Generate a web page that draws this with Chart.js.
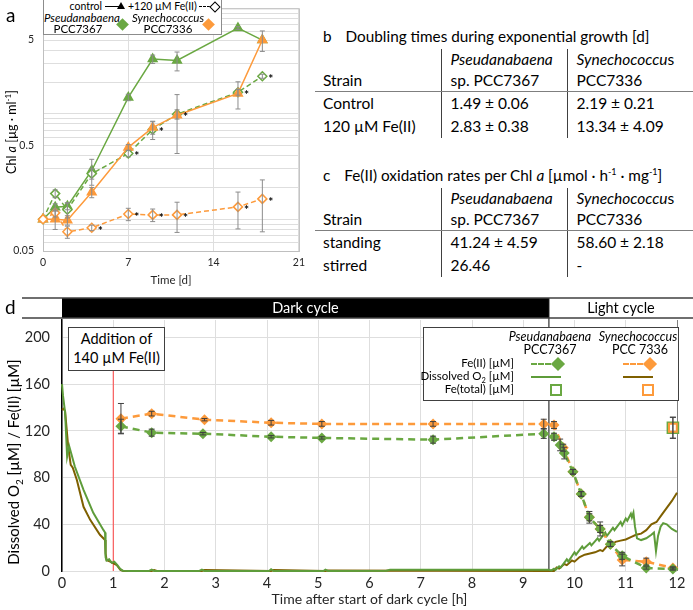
<!DOCTYPE html>
<html>
<head>
<meta charset="utf-8">
<script src="https://cdn.jsdelivr.net/npm/chart.js@4.4.0/dist/chart.umd.min.js"></script>
<style>
  body { margin: 0; width: 693px; height: 610px; position: relative; overflow: hidden; background: #fff; font-family: Lato, 'Open Sans', sans-serif; color: #000; }
  .abs { position: absolute; }
  .panel-label { font-size: 19px; }
  .rot { transform: translate(-50%, -50%) rotate(-90deg); white-space: nowrap; }
  .tbl-title { position: absolute; left: 323px; font-size: 15.3px; white-space: nowrap; }
  .tbl-title span { margin-left: 14px; }
  table.tbl { position: absolute; left: 315px; width: 378px; border-collapse: collapse; table-layout: fixed; font-size: 15.5px; }
  table.tbl td { padding: 0 0 0 8px; height: 23px; line-height: 21px; white-space: nowrap; }
  table.tbl td + td { border-left: 1px solid #404040; padding-left: 9px; }
  table.tbl tr.head td { height: 41px; vertical-align: bottom; border-bottom: 1.5px solid #7f7f7f; }
  .legend { position: absolute; background: #fff; border: 1px solid #404040; }
  .legend div { position: absolute; white-space: nowrap; }
  .dash { height: 0; border-top: 2px dashed; }
  .solid { height: 0; border-top: 2px solid; }
  .diamond { width: 9px; height: 9px; transform: rotate(45deg); }
  .box { width: 8px; height: 8px; border: 2px solid; background: #fff; }
  .tri { width: 0; height: 0; border-left: 4px solid transparent; border-right: 4px solid transparent; border-bottom: 7px solid #000; }
</style>
</head>
<body>

<canvas id="chartA" class="abs" width="310" height="297" style="left:0;top:-7px"></canvas>
<canvas id="chartD" class="abs" width="693" height="320" style="left:0;top:290px"></canvas>

<div class="abs panel-label" style="left:6px;top:3px">a</div>
<div class="abs rot" style="left:11px;top:132px;font-size:12.5px">Chl <i>a</i> [µg · ml<sup style="font-size:8px">-1</sup>]</div>

<!-- panel a legend -->
<div class="legend" style="left:43px;top:-1px;width:177px;height:34px;border-color:#8c8c8c">
  <div style="right:119px;top:0px;font-size:10.5px;line-height:13px">control</div>
  <div class="solid" style="left:61px;top:6px;width:14px;border-top-width:1.5px;border-color:#000"></div>
  <div class="tri" style="left:73px;top:2px"></div>
  <div style="left:84px;top:0px;font-size:10.5px;line-height:13px">+120 µM Fe(II)</div>
  <div class="dash" style="left:155px;top:6px;width:11px;border-color:#000;border-top-width:1.5px"></div>
  <div class="diamond" style="left:167px;top:3px;width:6px;height:6px;border:1.3px solid #000;background:#fff"></div>
  <div style="left:0;top:11px;width:68px;text-align:center;font-style:italic;font-size:11.5px;line-height:14px">Pseudanabaena</div>
  <div style="left:0;top:22px;width:68px;text-align:center;font-size:11.5px;line-height:14px">PCC7367</div>
  <div class="diamond" style="left:74px;top:20px;background:#6aa842"></div>
  <div style="left:88px;top:11px;width:72px;text-align:center;font-style:italic;font-size:11.5px;line-height:14px">Synechococcus</div>
  <div style="left:88px;top:22px;width:72px;text-align:center;font-size:11.5px;line-height:14px">PCC7336</div>
  <div class="diamond" style="left:160px;top:20px;background:#fd9a3b"></div>
</div>

<!-- tables b and c -->
<div class="tbl-title" style="top:27px">b<span>Doubling times during exponential growth [d]</span></div>
<table class="tbl" id="tableB" style="top:49px">
  <tbody>
    <tr class="head"><td>Strain</td><td><i>Pseudanabaena</i><br>sp. PCC7367</td><td><i>Synechococcu</i>s<br>PCC7336</td></tr>
  </tbody>
</table>
<div class="tbl-title" style="top:166px">c<span>Fe(II) oxidation rates per Chl <i>a</i> [µmol · h<sup style="font-size:9px">-1</sup> · mg<sup style="font-size:9px">-1</sup>]</span></div>
<table class="tbl" id="tableC" style="top:188px">
  <tbody>
    <tr class="head"><td>Strain</td><td><i>Pseudanabaena</i><br>sp. PCC7367</td><td><i>Synechococcu</i>s<br>PCC7336</td></tr>
  </tbody>
</table>

<!-- panel d -->
<div class="abs panel-label" style="left:5px;top:295px">d</div>
<div class="abs rot" style="left:14px;top:462px;font-size:15px">Dissolved O<sub style="font-size:10px">2</sub> [µM] / Fe(II) [µM]</div>
<div class="abs" style="left:68px;top:327px;width:95px;height:41px;border:1px solid #404040;background:#fff;font-size:14.5px;line-height:19px;text-align:center;padding-top:1px">Addition of<br>140 µM Fe(II)</div>

<div class="legend" style="left:423px;top:327px;width:254px;height:72px;font-size:12.5px">
  <div style="left:76px;top:1px;width:100px;text-align:center;font-style:italic">Pseudanabaena</div>
  <div style="left:76px;top:14px;width:100px;text-align:center">PCC7367</div>
  <div style="left:164px;top:1px;width:100px;text-align:center;font-style:italic">Synechococcus</div>
  <div style="left:166px;top:14px;width:100px;text-align:center">PCC 7336</div>
  <div style="right:164px;top:28px;font-size:11.5px">Fe(II) [µM]</div>
  <div style="right:164px;top:41px;font-size:11.5px">Dissolved O<sub style="font-size:7.5px">2</sub> [µM]</div>
  <div style="right:164px;top:54px;font-size:11.5px">Fe(total) [µM]</div>
  <div class="dash" style="left:107px;top:35px;width:20px;border-color:#6aa842"></div>
  <div class="diamond" style="left:129px;top:31px;width:10px;height:10px;background:#6aa842"></div>
  <div class="dash" style="left:199px;top:35px;width:20px;border-color:#fd9a3b"></div>
  <div class="diamond" style="left:221px;top:31px;width:10px;height:10px;background:#fd9a3b"></div>
  <div class="solid" style="left:107px;top:48px;width:30px;border-color:#5e9c3a"></div>
  <div class="solid" style="left:199px;top:48px;width:30px;border-color:#7f6000"></div>
  <div class="box" style="left:126px;top:56px;border-color:#6aa842"></div>
  <div class="box" style="left:218px;top:56px;border-color:#fd9a3b"></div>
</div>

<script>
// ---- panel a: growth (Chl a, log scale) ----
const days = [0, 1, 2, 4, 7, 9, 11, 16, 18];
const pseudoControl = [0.10, 0.13, 0.133, 0.29, 1.43, 3.3, 3.2, 6.5, 5.0];
const pseudoControlErr = [0, 0.01, 0.01, 0.08, 0.1, 0.3, 0.65, 0.2, 0];
const pseudoFe = [0.10, 0.175, 0.123, 0.27, 0.42, 0.71, 0.99, 1.6, 2.27];
const pseudoFeErr = [0, 0.015, 0.02, 0.03, 0.03, 0.14, 0.1, 0.1, 0.1];
const synechoControl = [0.10, 0.10, 0.098, 0.18, 0.48, 0.74, 0.97, 1.56, 5.0];
const synechoControlErr = [0, 0.02, 0.01, 0.02, 0.03, 0.1, 0.55, 0.45, 1.1];
const synechoFe = [0.10, 0.115, 0.076, 0.083, 0.112, 0.11, 0.11, 0.131, 0.156];
const synechoFeErr = [0, 0.01, 0.01, 0.005, 0.015, 0.015, 0.035, 0.05, 0.08];
const pseudoFeStars = [0, 0, 0, 0, 1, 1, 1, 1, 1];
const synechoFeStars = [0, 0, 0, 1, 1, 1, 1, 1, 1];
const chlGrid = [0.05, 0.06, 0.07, 0.08, 0.09, 0.1, 0.2, 0.3, 0.4, 0.5, 0.6, 0.7, 0.8, 0.9, 1, 2, 3, 4, 5, 6, 7, 8, 9, 10];
const chlLabels = [0.05, 0.5, 5];

// ---- tables b and c ----
const doublingRows = [
    ['Control', '1.49 ± 0.06', '2.19 ± 0.21'],
    ['120 µM Fe(II)', '2.83 ± 0.38', '13.34 ± 4.09']
];
const oxidationRows = [
    ['standing', '41.24 ± 4.59', '58.60 ± 2.18'],
    ['stirred', '26.46', '-']
];

// ---- panel d: Fe(II) and O2 time course ----
const pseudoFeHours = [1.15, 1.75, 2.75, 4.08, 5.07, 7.24, 9.4, 9.6, 9.72, 9.8, 9.97, 10.13, 10.29, 10.5, 10.7, 10.93, 11.4, 11.92];
const pseudoFeUM = [124, 118.5, 117.6, 115, 114, 112.5, 117.6, 115, 108, 101, 85, 66, 46, 36, 23, 13, 2.6, 1.7];
const pseudoFeUMErr = [6, 3, 1, 1, 1, 3, 4, 3, 5, 5, 2, 2, 5, 3, 2, 3, 1, 1];
const synechoFeHours = [1.15, 1.75, 2.78, 4.08, 5.07, 7.24, 9.4, 9.6, 9.78, 9.97, 10.13, 10.29, 10.5, 10.7, 10.93, 11.4, 11.92];
const synechoFeUM = [130.5, 134.8, 129.6, 127, 126, 126, 126, 125, 105.6, 85, 66, 46, 36, 23, 9.4, 8, 2.6];
const synechoFeUMErr = [13, 2, 1, 2, 2, 2, 4, 3, 3, 2, 2, 3, 6, 2, 5, 3, 1];
const feTotalHours = [11.92];
const feTotalUM = [122.7];
const feTotalErr = [9];

const pseudoO2Hours = [0, 0.02, 0.06, 0.1, 0.14, 0.25, 0.42, 0.61, 0.81, 0.84, 0.85, 0.87, 0.92, 0.97, 1.02,
    1.08, 1.13, 1.18, 1.3, 1.7, 1.75, 1.8, 2.68, 2.73, 2.78, 4.04, 4.08, 4.13, 5.1, 5.14,
    5.19, 6.33, 6.4, 9.5, 9.55, 9.6, 9.63, 9.7, 9.73, 9.85, 9.88, 10.0, 10.03, 10.15, 10.18,
    10.3, 10.33, 10.45, 10.48, 10.6, 10.63, 10.75, 10.78, 10.9, 10.93, 11.0, 11.03, 11.1, 11.12, 11.15,
    11.18, 11.22, 11.3, 11.4, 11.5, 11.55, 11.59, 11.63, 11.68, 11.73, 11.8, 11.9, 12.0];
const pseudoO2 = [160, 150, 136, 98, 107, 89.5, 69.5, 49.8, 35, 33, 12, 9, 10, 7, 8,
    5, 2, 0.3, 0, 0, 1.2, 0, 0, 1.2, 0, 0, 1.5, 0, 0, 1.2,
    0, 0.3, 1, 1, 0.5, 2, 1, 4, 3, 10, 8, 16, 14, 21, 19,
    24, 22, 28, 26, 33, 30, 37, 35, 42, 39, 45, 43, 49, 46, 50,
    38, 28, 26.5, 28, 31, 33, 17, 30, 38, 41, 40, 36, 33.5];
const synechoO2Hours = [0, 0.03, 0.06, 0.12, 0.17, 0.21, 0.29, 0.42, 0.55, 0.74, 0.84, 0.85, 0.87, 0.94, 1.07,
    1.14, 1.2, 1.75, 1.8, 1.85, 2.73, 2.78, 4.08, 4.13, 5.14, 5.19, 9.5, 9.6, 9.65, 9.7,
    9.8, 9.85, 9.95, 10.0, 10.1, 10.2, 10.3, 10.4, 10.5, 10.55, 10.65, 10.7, 10.8, 10.9, 11.0,
    11.1, 11.2, 11.3, 11.4, 11.5, 11.6, 11.7, 11.8, 11.9, 12.0];
const synechoO2 = [138, 139, 137, 107, 91, 88.4, 78, 55, 43.8, 31, 26.6, 15, 9.4, 8, 5,
    1, 0, 0, 0.8, 0, 0, 0.8, 0, 0.8, 0, 0.5, 0, 0, 3, 2,
    6, 5, 9, 8, 12, 14, 15, 16, 18, 17, 22, 21, 25, 26, 27,
    29, 31, 32, 35, 40, 42, 48, 54, 60, 67];
const fluxTicks = [0, 40, 80, 120, 160, 200];
const darkStart = 0;
const darkEnd = 9.5;
const additionTime = 1;

const GREEN = '#6aa842';
const ORANGE = '#fd9a3b';
const O2_GREEN = '#5e9c3a';
const O2_BROWN = '#7f6000';
const GRID = '#dedede';

Chart.defaults.font.family = 'Lato, "Open Sans", sans-serif';
Chart.defaults.color = '#262626';

function points(xs, ys) {
    return xs.map((x, i) => ({ x: x, y: ys[i] }));
}

function fillTable(id, rows) {
    const body = document.querySelector('#' + id + ' tbody');
    rows.forEach(row => {
        const tr = document.createElement('tr');
        row.forEach(cell => {
            const td = document.createElement('td');
            td.textContent = cell;
            tr.appendChild(td);
        });
        body.appendChild(tr);
    });
}
fillTable('tableB', doublingRows);
fillTable('tableC', oxidationRows);

// Vertical error bars, read from dataset.errors
const errorBarPlugin = {
    id: 'errorBars',
    afterDatasetsDraw(chart, args, opts) {
        const ctx = chart.ctx;
        const yScale = chart.scales.y;
        chart.data.datasets.forEach((ds, i) => {
            if (!ds.errors) return;
            const meta = chart.getDatasetMeta(i);
            ctx.save();
            ctx.strokeStyle = opts.color;
            ctx.lineWidth = opts.width;
            meta.data.forEach((pt, j) => {
                const err = ds.errors[j];
                if (!err) return;
                const v = ds.data[j].y;
                const top = yScale.getPixelForValue(v + err);
                const bottom = yScale.getPixelForValue(Math.max(v - err, yScale.min));
                ctx.beginPath();
                ctx.moveTo(pt.x, top);
                ctx.lineTo(pt.x, bottom);
                ctx.moveTo(pt.x - opts.cap, top);
                ctx.lineTo(pt.x + opts.cap, top);
                ctx.moveTo(pt.x - opts.cap, bottom);
                ctx.lineTo(pt.x + opts.cap, bottom);
                ctx.stroke();
            });
            ctx.restore();
        });
    }
};

// Significance asterisks next to points
const starPlugin = {
    id: 'stars',
    afterDatasetsDraw(chart, args, opts) {
        const ctx = chart.ctx;
        ctx.save();
        ctx.fillStyle = '#000';
        ctx.font = 'bold 12px Lato';
        ctx.textBaseline = 'middle';
        chart.data.datasets.forEach((ds, i) => {
            if (!ds.stars) return;
            chart.getDatasetMeta(i).data.forEach((pt, j) => {
                if (ds.stars[j]) ctx.fillText('*', pt.x + opts.dx, pt.y + opts.dy);
            });
        });
        ctx.restore();
    }
};

// Box round the plot area
const framePlugin = {
    id: 'frame',
    beforeDatasetsDraw(chart, args, opts) {
        const { ctx, chartArea: a } = chart;
        ctx.save();
        ctx.strokeStyle = opts.color;
        ctx.lineWidth = 1;
        ctx.strokeRect(a.left + 0.5, a.top + 0.5, a.right - a.left, a.bottom - a.top);
        ctx.restore();
    }
};

// Dark / light bar above panel d, addition marker and end-of-dark divider
const cyclePlugin = {
    id: 'cycle',
    beforeDatasetsDraw(chart, args, opts) {
        const { ctx, chartArea: a, scales: { x } } = chart;
        const xEnd = x.getPixelForValue(darkEnd);
        const xAdd = x.getPixelForValue(additionTime);
        ctx.save();
        ctx.lineWidth = 1.5;
        ctx.strokeStyle = '#595959';
        ctx.beginPath();
        ctx.moveTo(xEnd, opts.top);
        ctx.lineTo(xEnd, a.bottom);
        ctx.stroke();
        ctx.lineWidth = 1;
        ctx.strokeStyle = '#ff4040';
        ctx.beginPath();
        ctx.moveTo(xAdd, opts.noteBottom);
        ctx.lineTo(xAdd, a.bottom);
        ctx.stroke();
        ctx.restore();
    },
    afterDraw(chart, args, opts) {
        const { ctx, scales: { x } } = chart;
        const x0 = x.getPixelForValue(darkStart);
        const x1 = x.getPixelForValue(darkEnd);
        const mid = opts.top + opts.height / 2;
        ctx.save();
        ctx.fillStyle = '#000';
        ctx.fillRect(x0, opts.top, x1 - x0, opts.height);
        ctx.strokeStyle = '#404040';
        ctx.lineWidth = 1.5;
        ctx.beginPath();
        ctx.moveTo(opts.ruleLeft, opts.top);
        ctx.lineTo(chart.width, opts.top);
        ctx.moveTo(opts.ruleLeft, opts.top + opts.height);
        ctx.lineTo(chart.width, opts.top + opts.height);
        ctx.stroke();
        ctx.font = '14.5px Lato';
        ctx.textAlign = 'center';
        ctx.textBaseline = 'middle';
        ctx.fillStyle = '#fff';
        ctx.fillText('Dark cycle', (x0 + x1) / 2, mid);
        ctx.fillStyle = '#000';
        ctx.fillText('Light cycle', (x1 + chart.width) / 2, mid);
        ctx.restore();
    }
};

// ---- chart a ----
function growthSet(ys, errs, color, style, dashed, stars) {
    return {
        data: points(days, ys),
        errors: errs,
        stars: stars,
        borderColor: color,
        borderWidth: 1.5,
        borderDash: dashed ? [5, 3] : [],
        pointStyle: style,
        pointRadius: style === 'triangle' ? 5 : 4.5,
        pointBorderWidth: 1.5,
        pointBorderColor: color,
        pointBackgroundColor: dashed ? '#fff' : color,
        clip: false
    };
}

new Chart(document.getElementById('chartA'), {
    type: 'line',
    data: {
        datasets: [
            growthSet(synechoFe, synechoFeErr, ORANGE, 'rectRot', true, synechoFeStars),
            growthSet(synechoControl, synechoControlErr, ORANGE, 'triangle', false, null),
            growthSet(pseudoFe, pseudoFeErr, GREEN, 'rectRot', true, pseudoFeStars),
            growthSet(pseudoControl, pseudoControlErr, GREEN, 'triangle', false, null)
        ]
    },
    plugins: [framePlugin, errorBarPlugin, starPlugin],
    options: {
        responsive: false,
        animation: false,
        layout: { padding: { top: 0, right: 10, left: 0, bottom: 0 } },
        plugins: {
            legend: { display: false },
            tooltip: { enabled: false },
            frame: { color: '#bfbfbf' },
            errorBars: { color: '#8c8c8c', width: 1, cap: 2.5 },
            stars: { dx: 6, dy: 3 }
        },
        scales: {
            x: {
                type: 'linear',
                min: 0,
                max: 21,
                ticks: { stepSize: 7, padding: 5, font: { size: 10.5 } },
                grid: { color: GRID, drawTicks: false },
                border: { display: false },
                title: { display: true, text: 'Time [d]', font: { size: 11.5 }, padding: { top: 2, bottom: 3 } },
                afterFit: s => { s.height = 39; }
            },
            y: {
                type: 'logarithmic',
                min: 0.05,
                max: 10,
                afterBuildTicks: s => { s.ticks = chlGrid.map(v => ({ value: v })); },
                ticks: {
                    autoSkip: false,
                    padding: 9,
                    font: { size: 10.5 },
                    callback: v => chlLabels.includes(v) ? String(v) : ''
                },
                grid: { color: GRID, drawTicks: false },
                border: { display: false },
                afterFit: s => { s.width = 43; }
            }
        }
    }
});

// ---- chart d ----
function feSet(xs, ys, errs, color) {
    return {
        data: points(xs, ys),
        errors: errs,
        borderColor: color,
        borderWidth: 2.5,
        borderDash: [7, 5],
        pointStyle: 'rectRot',
        pointRadius: 5.5,
        pointBorderWidth: 0,
        pointBackgroundColor: color,
        clip: false
    };
}

function o2Set(xs, ys, color) {
    return {
        data: points(xs, ys),
        borderColor: color,
        borderWidth: 2,
        pointRadius: 0,
        clip: false
    };
}

function totalSet(color, size) {
    return {
        data: points(feTotalHours, feTotalUM),
        errors: feTotalErr,
        showLine: false,
        pointStyle: 'rect',
        pointRadius: size,
        pointBorderWidth: 2,
        pointBorderColor: color,
        pointBackgroundColor: 'rgba(255,255,255,0)',
        clip: false
    };
}

new Chart(document.getElementById('chartD'), {
    type: 'line',
    data: {
        datasets: [
            totalSet(ORANGE, 5.5),
            totalSet(GREEN, 7.5),
            feSet(pseudoFeHours, pseudoFeUM, pseudoFeUMErr, GREEN),
            feSet(synechoFeHours, synechoFeUM, synechoFeUMErr, ORANGE),
            o2Set(pseudoO2Hours, pseudoO2, O2_GREEN),
            o2Set(synechoO2Hours, synechoO2, O2_BROWN)
        ]
    },
    plugins: [cyclePlugin, errorBarPlugin],
    options: {
        responsive: false,
        animation: false,
        layout: { padding: { top: 30, right: 16, left: 0, bottom: 0 } },
        plugins: {
            legend: { display: false },
            tooltip: { enabled: false },
            errorBars: { color: '#404040', width: 1, cap: 3 },
            cycle: { top: 8, height: 20, ruleLeft: 22, noteBottom: 79 }
        },
        scales: {
            x: {
                type: 'linear',
                min: 0,
                max: 12,
                ticks: { stepSize: 1, padding: 4, font: { size: 14.5 } },
                grid: {
                    drawTicks: false,
                    color: ctx => ctx.index === 12 ? '#7f7f7f' : GRID
                },
                border: { display: false },
                title: { display: true, text: 'Time after start of dark cycle [h]', font: { size: 14 }, padding: { top: 0, bottom: 2 } },
                afterFit: s => { s.height = 39; }
            },
            y: {
                min: 0,
                max: 215,
                afterBuildTicks: s => { s.ticks = fluxTicks.map(v => ({ value: v })); },
                ticks: { padding: 12, font: { size: 14.5 } },
                grid: { color: GRID, drawTicks: false },
                border: { display: true, color: '#000', width: 1.5 },
                afterFit: s => { s.width = 62; }
            }
        }
    }
});
</script>
</body>
</html>
